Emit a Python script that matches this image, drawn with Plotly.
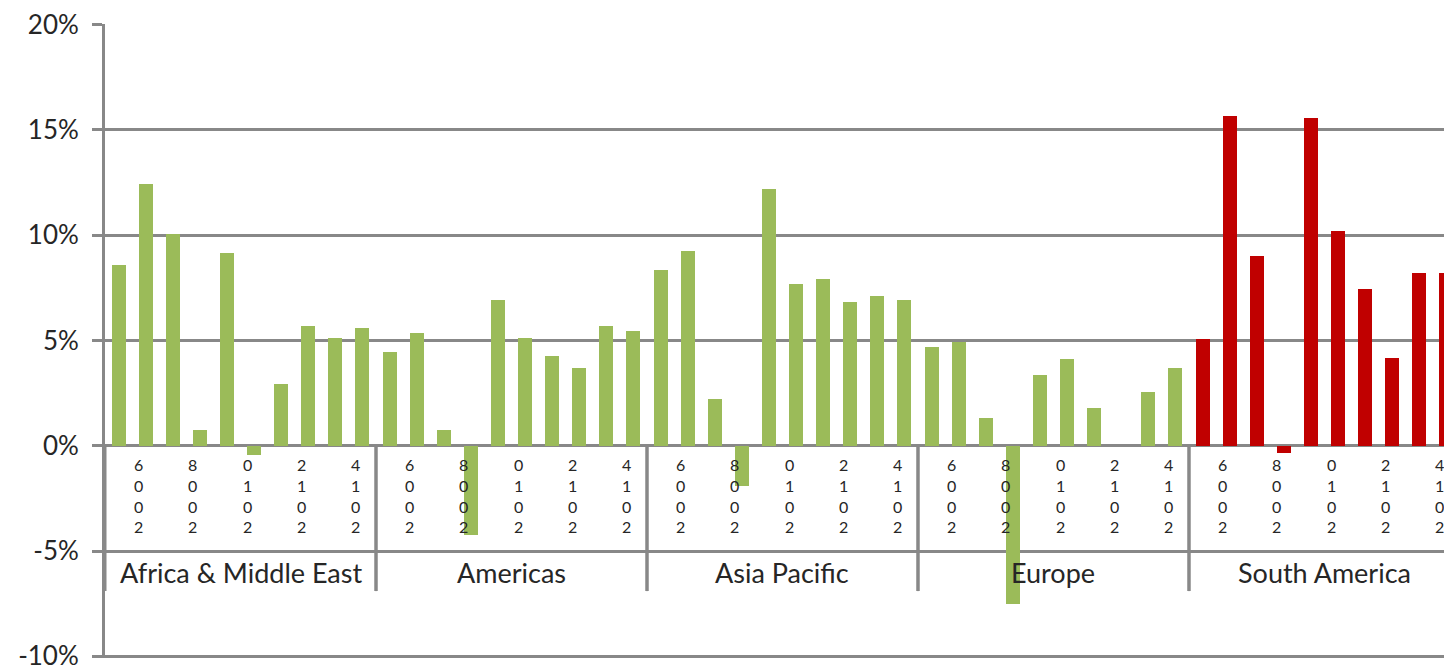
import plotly.graph_objects as go

# ---- data (growth, %) ----
regions = ["Africa & Middle East", "Americas", "Asia Pacific", "Europe", "South America"]
years = [2005, 2006, 2007, 2008, 2009, 2010, 2011, 2012, 2013, 2014]
label_years = [2006, 2008, 2010, 2012, 2014]

africa_me = [8.59, 12.41, 10.05, 0.77, 9.15, -0.44, 2.92, 5.71, 5.14, 5.58]
americas = [4.45, 5.36, 0.74, -4.23, 6.92, 5.14, 4.24, 3.69, 5.68, 5.46]
asia_pacific = [8.36, 9.26, 2.24, -1.89, 12.18, 7.68, 7.92, 6.81, 7.13, 6.92]
europe = [4.69, 4.95, 1.34, -7.50, 3.34, 4.13, 1.80, None, 2.56, 3.69]
south_america = [5.08, 15.68, 8.99, -0.36, 15.57, 10.20, 7.43, 4.16, 8.20, 8.20]

y_tickvals = [-10, -5, 0, 5, 10, 15, 20]
y_ticktext = ["-10%", "-5%", "0%", "5%", "10%", "15%", "20%"]

series = [africa_me, americas, asia_pacific, europe, south_america]
colors = ["#9BBB59", "#9BBB59", "#9BBB59", "#9BBB59", "#C00000"]

GRID = "#888888"
FONT = "Lato"
TXT = "#262626"
X_RANGE = [-0.5, 48.91]

n = len(years)


def to_paper(xv):
    return (xv - X_RANGE[0]) / (X_RANGE[1] - X_RANGE[0])


fig = go.Figure()
for g, (name, vals, col) in enumerate(zip(regions, series, colors)):
    xs = [g * n + i for i in range(n)]
    fig.add_trace(go.Bar(x=xs, y=vals, name=name, marker=dict(color=col, line=dict(width=0)),
                         width=0.52, showlegend=False))

annotations = []
shapes = []
for g, name in enumerate(regions):
    # region label
    annotations.append(dict(x=g * n + (n - 1) / 2, y=-6.0, xref="x", yref="y", text=name,
                            showarrow=False, font=dict(family=FONT, size=27, color=TXT),
                            xanchor="center", yanchor="middle"))
    # year labels (stacked characters)
    for yr in label_years:
        i = years.index(yr)
        annotations.append(dict(x=to_paper(g * n + i), y=-2.35, xref="paper", yref="y",
                                text="<br>".join(reversed(str(yr))), showarrow=False,
                                xshift=-7, font=dict(family=FONT, size=16, color=TXT),
                                xanchor="center", yanchor="middle"))
    # group dividers
    for b in (g * n - 0.5, (g + 1) * n - 0.5):
        shapes.append(dict(type="line", xref="x", yref="y", x0=b, x1=b, y0=0, y1=-6.9,
                           line=dict(color=GRID, width=3), layer="above"))

fig.update_layout(
    width=1444, height=671,
    margin=dict(l=105, r=0, t=24, b=10),
    plot_bgcolor="white", paper_bgcolor="white",
    bargap=0, annotations=annotations, shapes=shapes,
    xaxis=dict(range=X_RANGE, showticklabels=False, showgrid=False, zeroline=False,
               ticks="", showline=False, fixedrange=True),
    yaxis=dict(range=[-10.08, 20.03], tickvals=y_tickvals, ticktext=y_ticktext,
               showgrid=True, gridcolor=GRID, gridwidth=2.5, zeroline=True,
               zerolinecolor=GRID, zerolinewidth=3, showline=True, linecolor=GRID,
               linewidth=3, ticks="outside", ticklen=10, tickwidth=2.5, tickcolor=GRID,
               ticklabelstandoff=8, ticklabeloverflow="allow",
               tickfont=dict(family=FONT, size=26, color=TXT)),
)

fig.write_html("out.html", config={"displayModeBar": False},
               post_script="document.body.style.margin='0';document.body.style.overflow='hidden';")
